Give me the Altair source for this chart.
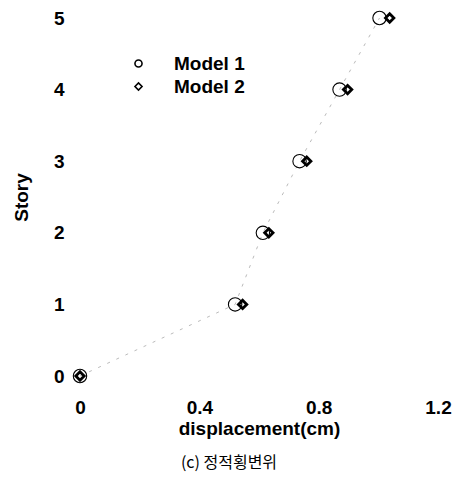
import altair as alt
import pandas as pd

stories = [0, 1, 2, 3, 4, 5]
model1 = [0.0, 0.52, 0.613, 0.736, 0.87, 1.004]
model2 = [0.0, 0.545, 0.633, 0.76, 0.897, 1.038]
series = ["Model 1", "Model 2"]
x_ticks = [0, 0.4, 0.8, 1.2]
y_ticks = [0, 1, 2, 3, 4, 5]

rows = []
for s, a, b in zip(stories, model1, model2):
    rows.append({"story": s, "disp": a, "model": series[0]})
    rows.append({"story": s, "disp": b, "model": series[1]})
df = pd.DataFrame(rows)
line_df = pd.DataFrame({"story": stories, "disp": model1})

FONT = "Liberation Sans"

x = alt.X("disp:Q", title="displacement(cm)",
          scale=alt.Scale(domain=[0, 1.2], nice=False, zero=False),
          axis=alt.Axis(values=x_ticks, format="~g", grid=False, domain=False, ticks=False,
                        labelFont=FONT, labelFontSize=19, labelFontWeight="bold", labelColor="black",
                        labelPadding=22, labelFlush=False,
                        titleFont=FONT, titleFontSize=19, titleFontWeight="bold", titleColor="black",
                        titlePadding=2))
y = alt.Y("story:Q", title="Story",
          scale=alt.Scale(domain=[0, 5], nice=False),
          axis=alt.Axis(values=y_ticks, format="d", grid=False, domain=False, ticks=False,
                        labelFont=FONT, labelFontSize=19, labelFontWeight="bold", labelColor="black",
                        labelPadding=16,
                        titleFont=FONT, titleFontSize=19, titleFontWeight="bold", titleColor="black",
                        titlePadding=22))

shape = alt.Shape("model:N", scale=alt.Scale(domain=series, range=["circle", "diamond"]),
                  legend=alt.Legend(title=None, orient="none", legendX=49, legendY=36,
                                    labelFont=FONT, labelFontSize=19, labelFontWeight="bold",
                                    labelColor="black", symbolSize=50, symbolStrokeColor="black",
                                    symbolStrokeWidth=1.6, symbolOpacity=1, labelOffset=26,
                                    rowPadding=3))

line = alt.Chart(line_df).mark_line(color="#bbbbbb", strokeWidth=1, strokeDash=[3, 7]).encode(
    x=x, y=y)

pts1 = alt.Chart(df).transform_filter(alt.datum.model == series[0]).mark_point(
    filled=False, color="black", size=180, strokeWidth=1.1, opacity=1).encode(x=x, y=y, shape=shape)
pts2 = alt.Chart(df).transform_filter(alt.datum.model == series[1]).mark_point(
    filled=False, color="black", size=70, strokeWidth=2.8, opacity=1).encode(x=x, y=y, shape=shape)

chart = alt.layer(line, pts1, pts2).properties(
    width=358, height=358,
    autosize=alt.AutoSizeParams(type="none"),
    padding={"left": 72, "top": 10, "right": 15, "bottom": 96},
    title=alt.TitleParams("(c) 정적횡변위", orient="bottom", font="Noto Sans CJK KR",
                          fontSize=16, fontWeight="normal", color="black", offset=17, anchor="middle",
                          dx=-30),
).configure_view(stroke=None)

chart.save("out.html", embed_options={"renderer": "svg", "actions": False})
